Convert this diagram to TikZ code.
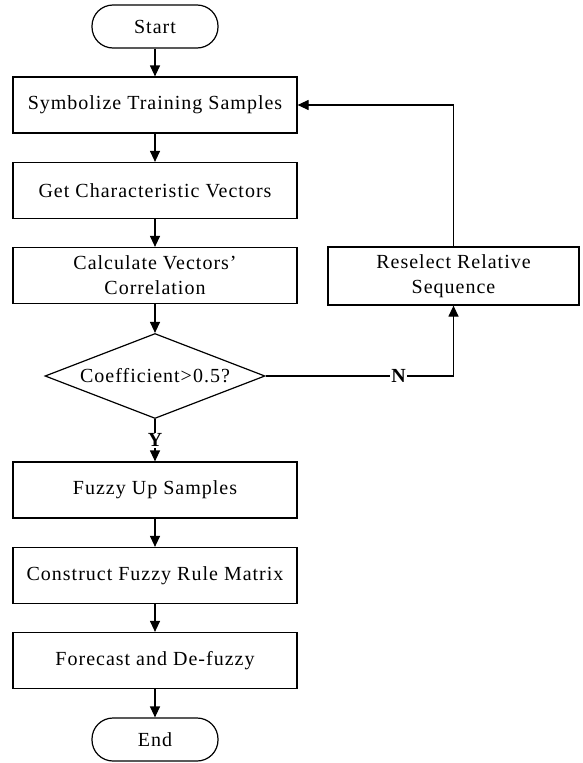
\documentclass[tikz,border=0pt]{standalone}
\usepackage{fontspec}
\setmainfont{Liberation Serif}[LetterSpace=5]
\usetikzlibrary{shapes.geometric,arrows.meta}
\tikzset{
  stepbox/.style={draw,line width=1.2pt,minimum width=284pt,minimum height=56pt,inner sep=2pt,align=center},
  termbox/.style={draw,line width=1.2pt,rounded corners=21pt,minimum width=126pt,minimum height=43pt},
  testbox/.style={draw,diamond,line width=1.2pt,aspect=2.6,inner sep=0pt,minimum width=220pt,minimum height=85pt},
  flow/.style={line width=1.2pt,-{Triangle[length=11pt,width=10pt]}},
  flowlabel/.style={fill=white,inner sep=1pt,font=\fontsize{20}{25}\selectfont\bfseries},
}
\begin{document}
\begin{tikzpicture}[x=1pt,y=-1pt,font=\fontsize{20}{25}\selectfont]
\useasboundingbox (0,0) rectangle (582,763);
% main column
\node[termbox] (start) at (155,26.5) {Start};
\node[stepbox] (sym) at (155,105) {Symbolize Training Samples};
\node[stepbox] (vec) at (155,190.5) {Get Characteristic Vectors};
\node[stepbox] (corr) at (155,275.5) {Calculate Vectors’\\Correlation};
\node[testbox] (coef) at (155,376) {Coefficient>0.5?};
\node[stepbox] (fuzzy) at (155,490) {Fuzzy Up Samples};
\node[stepbox] (rule) at (155,575.5) {Construct Fuzzy Rule Matrix};
\node[stepbox] (fcast) at (155,660.5) {Forecast and De-fuzzy};
\node[termbox] (end) at (155,739.5) {End};
% side branch
\node[stepbox,minimum width=251pt,minimum height=58pt] (resel) at (453.5,276) {Reselect Relative\\Sequence};

\draw[flow] (start) -- (sym);
\draw[flow] (sym) -- (vec);
\draw[flow] (vec) -- (corr);
\draw[flow] (corr) -- (coef);
\draw[flow] (coef) -- node[flowlabel]{Y} (fuzzy);
\draw[flow] (fuzzy) -- (rule);
\draw[flow] (rule) -- (fcast);
\draw[flow] (fcast) -- (end);
\draw[flow] (coef.east) -| node[flowlabel,pos=0.354]{N} (resel.south);
\draw[flow] (resel.north) |- (sym.east);
\end{tikzpicture}
\end{document}
